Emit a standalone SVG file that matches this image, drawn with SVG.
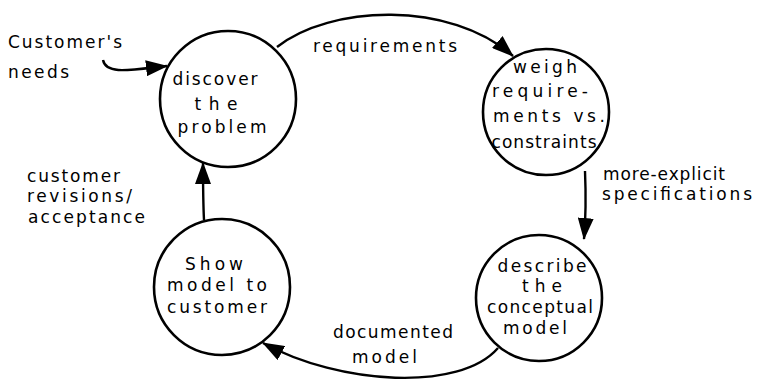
<svg xmlns="http://www.w3.org/2000/svg" width="758" height="383" viewBox="0 0 758 383">
<defs>
<style>
.node circle{fill:#fff;stroke:#000;stroke-width:2.6}
text{font-family:"DejaVu Sans","Liberation Sans",sans-serif;font-size:17px;fill:#000}
.c{text-anchor:middle}
.edge{fill:none;stroke:#000;stroke-width:2.4;marker-end:url(#ah)}
</style>
<marker id="ah" markerUnits="userSpaceOnUse" markerWidth="22" markerHeight="16" refX="21" refY="8" orient="auto">
<path d="M0,0 L22,8 L0,16 z" fill="#000"/>
</marker>
</defs>
<rect width="758" height="383" fill="#fff"/>
<g id="connectors">
<path class="edge" d="M103,60 C106,75 130,70 167,66"/>
<path class="edge" d="M277,47 C330,5 450,0 513,56"/>
<path class="edge" d="M585,171 C586,195 586,215 584,239"/>
<path class="edge" d="M498,348 C460,392 340,385 263,343"/>
<path class="edge" d="M204,220 C203,200 203,185 203,163"/>
</g>
<g id="labels">
<text x="8" y="48" textLength="114" lengthAdjust="spacing">Customer's</text>
<text x="8" y="78" textLength="61" lengthAdjust="spacing">needs</text>
<text x="313" y="52" textLength="144" lengthAdjust="spacing">requirements</text>
<text x="603" y="180" textLength="122" lengthAdjust="spacing">more-explicit</text>
<text x="602" y="200" textLength="150" lengthAdjust="spacing">specifications</text>
<text x="333" y="338" textLength="120" lengthAdjust="spacing">documented</text>
<text x="352" y="363" textLength="65" lengthAdjust="spacing">model</text>
<text x="27" y="182" textLength="93" lengthAdjust="spacing">customer</text>
<text x="27" y="202" textLength="105" lengthAdjust="spacing">revisions/</text>
<text x="28" y="223" textLength="117" lengthAdjust="spacing">acceptance</text>
</g>
<g id="discover" class="node">
<circle cx="228" cy="99" r="68"/>
<text class="c" x="215" y="85" textLength="85" lengthAdjust="spacing">discover</text>
<text class="c" x="216" y="110" textLength="43" lengthAdjust="spacing">the</text>
<text class="c" x="222" y="133" textLength="89" lengthAdjust="spacing">problem</text>
</g>
<g id="weigh" class="node">
<circle cx="546" cy="112" r="63"/>
<text class="c" x="545" y="73" textLength="64" lengthAdjust="spacing">weigh</text>
<text class="c" x="540" y="97" textLength="96" lengthAdjust="spacing">require-</text>
<text class="c" x="549" y="122" textLength="112" lengthAdjust="spacing">ments vs.</text>
<text class="c" x="544" y="148" textLength="105" lengthAdjust="spacing">constraints</text>
</g>
<g id="describe" class="node">
<circle cx="539" cy="298" r="63"/>
<text class="c" x="542" y="272" textLength="89" lengthAdjust="spacing">describe</text>
<text class="c" x="542" y="292" textLength="40" lengthAdjust="spacing">the</text>
<text class="c" x="540" y="313" textLength="106" lengthAdjust="spacing">conceptual</text>
<text class="c" x="535" y="334" textLength="64" lengthAdjust="spacing">model</text>
</g>
<g id="show" class="node">
<circle cx="222" cy="287" r="68"/>
<text class="c" x="214" y="270" textLength="58" lengthAdjust="spacing">Show</text>
<text class="c" x="217" y="291" textLength="100" lengthAdjust="spacing">model to</text>
<text class="c" x="217" y="313" textLength="100" lengthAdjust="spacing">customer</text>
</g>
</svg>
